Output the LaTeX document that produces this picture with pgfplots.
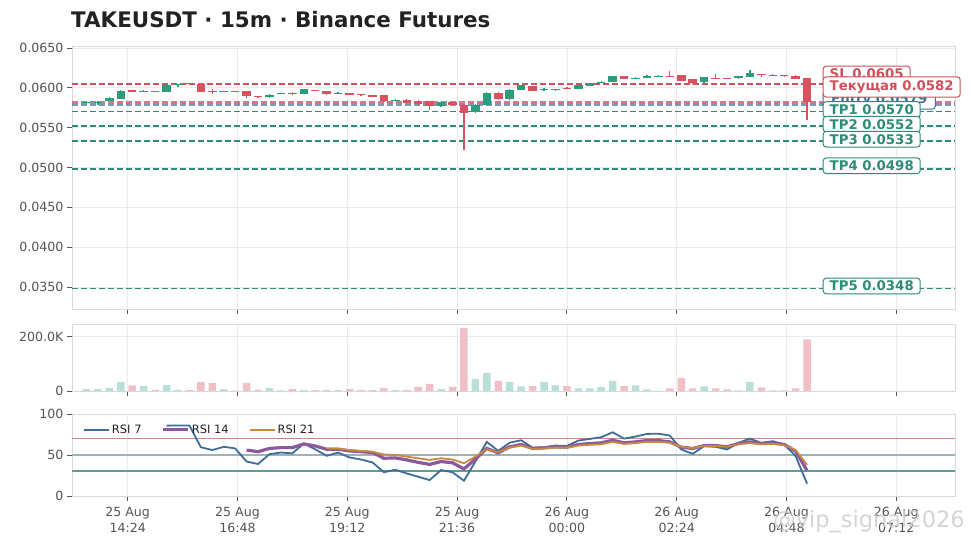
\documentclass[border=0pt]{standalone}
\usepackage{fontspec}
\setmainfont{DejaVu Sans}
\usepackage{pgfplots}
\pgfplotsset{compat=1.18}
\usepackage{pgfplotstable}

\definecolor{cup}{HTML}{2A9D7C}
\definecolor{cdn}{HTML}{D8535F}
\definecolor{vup}{HTML}{B9E0D6}
\definecolor{vdn}{HTML}{F0C0C6}
\definecolor{spine}{HTML}{D3DAE0}
\definecolor{gridc}{HTML}{E7EBEE}
\definecolor{tickc}{HTML}{555555}
\definecolor{titlec}{HTML}{222222}
\definecolor{slc}{HTML}{D0505C}
\definecolor{tpc}{HTML}{2E8B78}
\definecolor{entc}{HTML}{3F6F9C}
\definecolor{r7c}{HTML}{3E6E96}
\definecolor{r14c}{HTML}{8C5A9C}
\definecolor{r21c}{HTML}{C8893C}
\definecolor{l70}{HTML}{C98585}
\definecolor{l50}{HTML}{9DB2BA}
\definecolor{l30}{HTML}{5F9E97}

% rising candles: time (min since 25 Aug 00:00), open, high, low, close, volume
\pgfplotstableread{
t o h l c v
810 0.05812 0.05826 0.05808 0.05822 7000
825 0.05815 0.05830 0.05785 0.05825 7000
840 0.05840 0.05885 0.05835 0.05870 11000
855 0.05865 0.05968 0.05860 0.05965 33000
885 0.05950 0.05968 0.05945 0.05962 18000
915 0.05948 0.06045 0.05945 0.06040 22000
930 0.06030 0.06052 0.06015 0.06045 4000
990 0.05952 0.05966 0.05948 0.05962 7000
1050 0.05880 0.05918 0.05876 0.05915 11000
1065 0.05920 0.05935 0.05918 0.05930 2000
1095 0.05922 0.05983 0.05918 0.05980 3000
1140 0.05928 0.05942 0.05924 0.05934 3000
1215 0.05835 0.05865 0.05830 0.05850 3000
1275 0.05770 0.05823 0.05765 0.05820 7000
1320 0.05695 0.05795 0.05685 0.05790 44000
1335 0.05785 0.05945 0.05780 0.05940 66000
1365 0.05855 0.05982 0.05850 0.05978 33000
1380 0.05978 0.06040 0.05975 0.06035 17000
1410 0.05975 0.06000 0.05960 0.05985 33000
1425 0.05978 0.05988 0.05955 0.05985 21000
1455 0.05990 0.06040 0.05985 0.06030 10000
1470 0.06025 0.06058 0.06020 0.06055 10000
1485 0.06062 0.06080 0.06058 0.06075 15000
1500 0.06075 0.06150 0.06070 0.06145 37000
1530 0.06115 0.06140 0.06105 0.06125 21000
1545 0.06125 0.06158 0.06120 0.06152 6000
1560 0.06145 0.06160 0.06140 0.06152 1500
1620 0.06070 0.06140 0.06065 0.06135 17000
1665 0.06118 0.06148 0.06115 0.06145 2000
1680 0.06140 0.06225 0.06135 0.06180 33000
1710 0.06160 0.06170 0.06155 0.06166 2000
}\up

% falling candles
\pgfplotstableread{
t o h l c v
870 0.05968 0.05978 0.05945 0.05950 21000
900 0.05962 0.05965 0.05945 0.05948 4000
945 0.06058 0.06060 0.06045 0.06048 4000
960 0.06050 0.06055 0.05945 0.05950 33000
975 0.05962 0.05985 0.05925 0.05950 29000
1005 0.05962 0.05965 0.05950 0.05955 1500
1020 0.05958 0.05962 0.05872 0.05895 29000
1035 0.05892 0.05895 0.05876 0.05880 4000
1080 0.05932 0.05945 0.05912 0.05922 7000
1110 0.05975 0.05978 0.05958 0.05962 3000
1125 0.05955 0.05960 0.05915 0.05918 3000
1155 0.05935 0.05940 0.05910 0.05915 7000
1170 0.05918 0.05920 0.05895 0.05905 3000
1185 0.05908 0.05910 0.05885 0.05888 3000
1200 0.05905 0.05908 0.05828 0.05832 11000
1230 0.05850 0.05855 0.05810 0.05815 3000
1245 0.05838 0.05842 0.05775 0.05797 15000
1260 0.05830 0.05835 0.05720 0.05772 26000
1290 0.05825 0.05828 0.05785 0.05790 15000
1305 0.05790 0.05795 0.05215 0.05690 232000
1350 0.05940 0.05945 0.05850 0.05855 37000
1395 0.06020 0.06025 0.05955 0.05960 18000
1440 0.06000 0.06005 0.05980 0.05985 18000
1515 0.06148 0.06152 0.06105 0.06110 18000
1575 0.06150 0.06205 0.06138 0.06142 10000
1590 0.06155 0.06160 0.06080 0.06085 48000
1605 0.06110 0.06115 0.06050 0.06055 10000
1635 0.06125 0.06170 0.06115 0.06118 10000
1650 0.06122 0.06125 0.06110 0.06115 6000
1695 0.06168 0.06172 0.06140 0.06155 13000
1725 0.06160 0.06165 0.06130 0.06148 2000
1740 0.06150 0.06155 0.06105 0.06110 10000
1755 0.06118 0.06122 0.05590 0.05820 190000
}\dn

\pgfplotstableread{
t r7 r14 r21
915 85.8 nan nan
930 86 nan nan
945 86 nan nan
960 59.5 nan nan
975 56 nan nan
990 60 nan nan
1005 58 nan nan
1020 42 56 nan
1035 39 54 nan
1050 51 58 nan
1065 53 59 nan
1080 52 59 nan
1095 64 63.5 nan
1110 57 61 nan
1125 49 57 58
1140 53 57 58
1155 47 55 56
1170 44.5 54 55
1185 41 53 54
1200 29 46 50.6
1215 32 46.5 50
1230 27.5 44 48
1245 23.5 41 46
1260 19.4 38.5 44
1275 31.6 42 46
1290 29 40.5 44.5
1305 18.6 33 40
1320 42 45 48
1335 66 58 57
1350 55 52.6 53.5
1365 65 60 59
1380 68 62.8 61.5
1395 59 58 57.5
1410 59.5 58.7 58
1425 61.5 60 59
1440 61 59.5 59
1455 67.6 62.8 61.5
1470 69.6 64 62.5
1485 71.7 64.8 63
1500 77.7 68 66
1515 70 64.8 63.5
1530 72.5 66 64.5
1545 75.7 67.6 66
1560 76 67.6 66
1575 73.7 66 65
1590 56.7 59.5 60
1605 51.4 58 58.5
1620 60.7 61.5 61
1635 60 61.5 61
1650 56.7 60 60
1665 64.8 64 63
1680 70 66 64.5
1695 64.8 64 63
1710 66.8 64.8 63.5
1725 62.8 62.8 62
1740 48.6 54.7 56
1755 15 31 38
}\rsi

\pgfplotsset{
  common/.style={
    scale only axis, width=883pt, xmin=791, xmax=1949,
    xtick={864,1008,1152,1296,1440,1584,1728,1872},
    axis line style={draw=spine, line width=0.8pt},
    tick pos=left, tick align=outside,
    major tick length=5pt,
    tick style={color=tickc, line width=0.8pt},
    grid=major, major grid style={draw=gridc, line width=0.7pt},
    tick label style={font=\fontsize{12.6}{15.5}\selectfont, text=tickc},
    /pgf/number format/assume math mode=true,
    clip mode=individual,
  },
  lvl/.style={forget plot, line width=1.5pt, dash pattern=on 5.5pt off 3.5pt},
}
\tikzset{
  lbl/.style={anchor=west, fill=white, rounded corners=3pt, line width=1pt,
    inner xsep=6.5pt, inner ysep=2.8pt, font=\fontsize{13.3}{15}\bfseries\selectfont},
}

\begin{document}
\begin{tikzpicture}
\path[use as bounding box] (0pt,0pt) rectangle (971pt,548pt);
\node[anchor=west, font=\fontsize{21.4}{24}\bfseries\selectfont, text=titlec, inner sep=0pt] at (71pt,528pt) {TAKEUSDT · 15m · Binance Futures};

% ---------- price ----------
\begin{axis}[common, at={(72pt,239pt)}, anchor=south west, height=263pt,
  ymin=0.032243, ymax=0.06525,
  ytick={0.035,0.04,0.045,0.05,0.055,0.06,0.065},
  scaled y ticks=false,
  yticklabel style={/pgf/number format/.cd, fixed, fixed zerofill, precision=4},
  xticklabels={}]
\addplot[lvl, slc] coordinates {(791,0.0605) (1949,0.0605)};
\addplot[lvl, cdn, line width=2.3pt, opacity=0.8] coordinates {(791,0.0582) (1949,0.0582)};
\addplot[lvl, entc, line width=2.3pt, opacity=0.7] coordinates {(791,0.0579) (1949,0.0579)};
\addplot[lvl, tpc] coordinates {(791,0.0570) (1949,0.0570)};
\addplot[lvl, tpc] coordinates {(791,0.0552) (1949,0.0552)};
\addplot[lvl, tpc] coordinates {(791,0.0533) (1949,0.0533)};
\addplot[lvl, tpc] coordinates {(791,0.0498) (1949,0.0498)};
\addplot[lvl, tpc] coordinates {(791,0.0348) (1949,0.0348)};
% wicks
\addplot[forget plot, cup, line width=1.3pt, quiver={u=0, v=\thisrow{h}-\thisrow{l}}] table[x=t, y=l] {\up};
\addplot[forget plot, cdn, line width=1.3pt, quiver={u=0, v=\thisrow{h}-\thisrow{l}}] table[x=t, y=l] {\dn};
% bodies
\addplot[forget plot, cup, line width=8.5pt, quiver={u=0, v=\thisrow{c}-\thisrow{o}}] table[x=t, y=o] {\up};
\addplot[forget plot, cdn, line width=8.5pt, quiver={u=0, v=\thisrow{c}-\thisrow{o}}] table[x=t, y=o] {\dn};
% labels
\node[lbl, draw=slc, text=slc] at (axis cs:1775.5,0.06174) {SL 0.0605};
\node[lbl, draw=entc, text=entc, inner xsep=8pt] at (axis cs:1775.5,0.05847) {Entry 0.0579};
\node[lbl, draw=tpc, text=tpc] at (axis cs:1775.5,0.05728) {TP1 0.0570};
\node[lbl, draw=tpc, text=tpc] at (axis cs:1775.5,0.05544) {TP2 0.0552};
\node[lbl, draw=tpc, text=tpc] at (axis cs:1775.5,0.05355) {TP3 0.0533};
\node[lbl, draw=tpc, text=tpc] at (axis cs:1775.5,0.05022) {TP4 0.0498};
\node[lbl, draw=tpc, text=tpc] at (axis cs:1775.5,0.03513) {TP5 0.0348};
\node[lbl, draw=slc, text=slc, inner ysep=3.8pt] at (axis cs:1775.5,0.06011) {Текущая 0.0582};
\end{axis}

% ---------- volume ----------
\begin{axis}[common, at={(72pt,157pt)}, anchor=south west, height=67pt,
  ymin=0, ymax=246800, ytick={0,200000}, yticklabels={0,200.0K},
  scaled y ticks=false, xticklabels={}]
\addplot[ybar, bar width=7.5pt, bar shift=0pt, fill=vup, draw=none] table[x=t, y=v] {\up};
\addplot[ybar, bar width=7.5pt, bar shift=0pt, fill=vdn, draw=none] table[x=t, y=v] {\dn};
\end{axis}

% ---------- RSI ----------
\begin{axis}[common, at={(72pt,52pt)}, anchor=south west, height=82pt,
  ymin=0, ymax=100, ytick={0,50,100},
  xticklabels={{25 Aug\\14:24},{25 Aug\\16:48},{25 Aug\\19:12},{25 Aug\\21:36},{26 Aug\\00:00},{26 Aug\\02:24},{26 Aug\\04:48},{26 Aug\\07:12}},
  x tick label style={align=center, yshift=-3pt},
  legend style={at={(0.009,0.92)}, anchor=north west, draw=none, fill=none,
    font=\fontsize{11.5}{13}\selectfont, text=titlec, legend columns=3,
    /tikz/every even column/.append style={column sep=18pt}},
  legend image code/.code={\draw[#1] (0pt,0pt) -- (25pt,0pt);}]
\addplot[forget plot, l70, line width=1.8pt] coordinates {(791,70) (1949,70)};
\addplot[forget plot, l50, line width=1.2pt] coordinates {(791,50) (1949,50)};
\addplot[forget plot, l30, line width=1.8pt] coordinates {(791,30) (1949,30)};
\addplot[r7c, line width=1.8pt] table[x=t, y=r7] {\rsi};
\addlegendentry{RSI 7}
\addplot[r14c, line width=3.2pt] table[x=t, y=r14] {\rsi};
\addlegendentry{RSI 14}
\addplot[r21c, line width=1.8pt] table[x=t, y=r21] {\rsi};
\addlegendentry{RSI 21}
\end{axis}

\node[anchor=center, font=\fontsize{22.5}{25}\selectfont, text=gray!40, opacity=0.85] at (869pt,26pt) {@vip\_signal2026};
\end{tikzpicture}
\end{document}
